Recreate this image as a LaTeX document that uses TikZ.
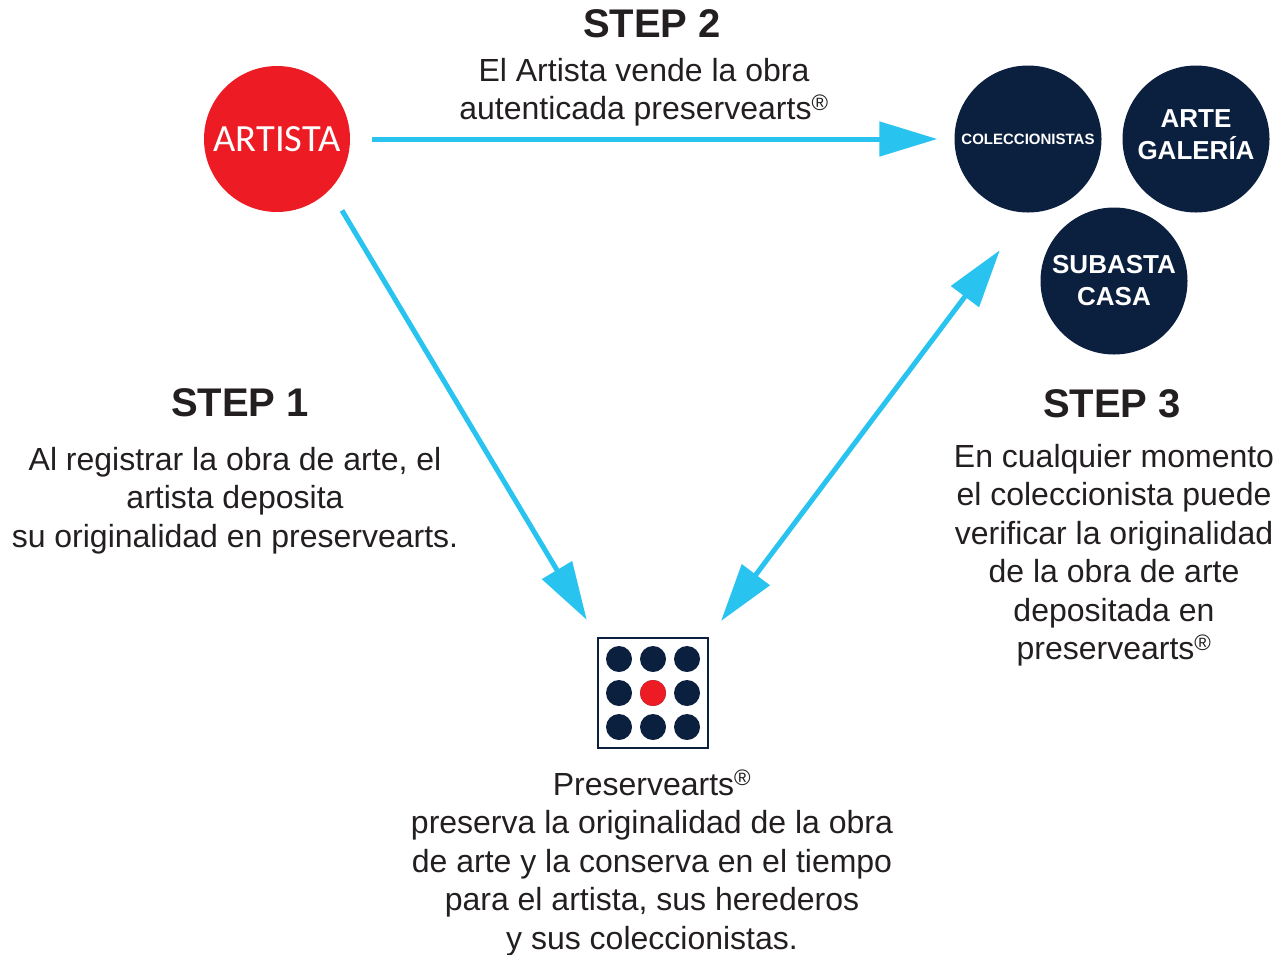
\documentclass[tikz,border=0pt]{standalone}
\usepackage{fontspec}
\setmainfont{Liberation Sans}
\newfontfamily\carlito{Carlito}
\usetikzlibrary{arrows.meta}

\definecolor{artred}{HTML}{ED1C24}
\definecolor{navy}{HTML}{0B1F3F}
\definecolor{sky}{HTML}{29C3EF}
\definecolor{ink}{HTML}{231F20}

\begin{document}
\begin{tikzpicture}[x=1pt,y=-1pt,
        artist/.style={circle,fill=artred,minimum size=146pt,inner sep=0pt,
            text=white,font=\carlito\fontsize{38.5}{40}\selectfont},
        buyer/.style={circle,fill=navy,minimum size=147pt,inner sep=0pt,
            text=white,align=center,font=\bfseries\fontsize{26}{32}\selectfont},
        steptitle/.style={anchor=base,inner sep=0pt,text=ink,
            font=\bfseries\fontsize{40}{44}\selectfont},
        info/.style={anchor=base,align=center,inner sep=0pt,text=ink,
            font=\fontsize{32}{38.5}\selectfont},
        flow/.style={color=sky,line width=5pt,-{Triangle[length=58pt,width=34pt]}},
        dot/.style={circle,fill=navy,minimum size=26pt,inner sep=0pt}
    ]
        \useasboundingbox (0,0) rectangle (1284,954);
        % actors
        \node[artist] (artista) at (277,139) {ARTISTA};
        \node[buyer,font=\bfseries\fontsize{15}{18}\selectfont] (colec) at (1028,139) {COLECCIONISTAS};
        \node[buyer,text depth=8pt] (galeria) at (1196,139) {ARTE\\GALERÍA};
        \node[buyer] (subasta) at (1114,281) {SUBASTA\\CASA};
        % preservearts logo
        \node[draw=navy,line width=2pt,minimum size=110pt,inner sep=0pt] (logo) at (653,693) {};
        \foreach \i in {-1,0,1}
            \foreach \j in {-1,0,1}
                \node[dot] at ([shift={(34*\i,34*\j)}]logo.center) {};
        \node[dot,fill=artred] at (logo.center) {};
        % texts (base = last line)
        \node[steptitle] (s2) at (652,37) {STEP 2};
        \node[info] (t2) at (644,119.5) {El Artista vende la obra\\autenticada preservearts\textsuperscript{®}};
        \node[steptitle] (s1) at (240,416) {STEP 1};
        \node[info] (t1) at (235,547) {Al registrar la obra de arte, el\\artista deposita\\su originalidad en preservearts.};
        \node[steptitle] (s3) at (1112,417) {STEP 3};
        \node[info] (t3) at (1114,659.5) {En cualquier momento\\el coleccionista puede\\verificar la originalidad\\de la obra de arte\\depositada en\\preservearts\textsuperscript{®}};
        \node[info] (t4) at (652,949) {Preservearts\textsuperscript{®}\\preserva la originalidad de la obra\\de arte y la conserva en el tiempo\\para el artista, sus herederos\\y sus coleccionistas.};
        % connectors
        \draw[flow,shorten <=22pt,shorten >=17pt] (artista.east) -- (colec.west);
        \draw[flow,shorten <=24pt,shorten >=20pt] (artista.-44) -- (logo.north west);
        \draw[flow,{Triangle[length=58pt,width=34pt]}-{Triangle[length=58pt,width=34pt]},
            shorten <=47pt,shorten >=20pt] (colec.south) -- (logo.north east);
    \end{tikzpicture}
\end{document}
